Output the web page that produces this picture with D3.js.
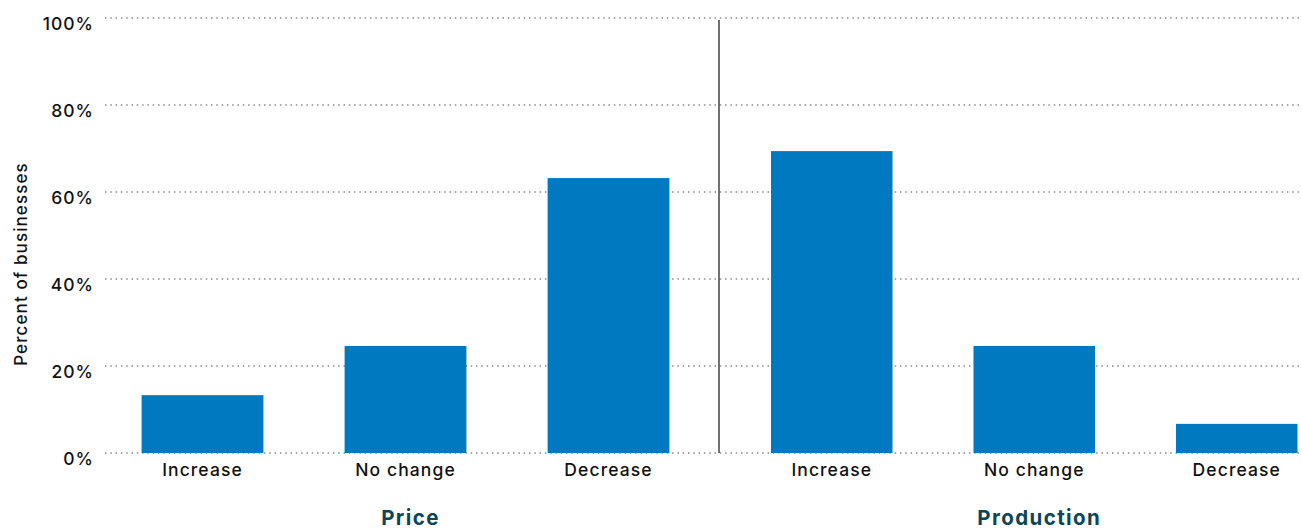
<!DOCTYPE html>
<html>
<head>
<meta charset="utf-8">
<script src="https://cdn.jsdelivr.net/npm/d3@7"></script>
<style>
  html, body { margin: 0; padding: 0; background: #fff; }
  svg { display: block; font-family: Inter, "Liberation Sans", Arial, sans-serif; }
</style>
</head>
<body>
<svg id="chart" width="1302" height="530"></svg>
<script>
const categories = ["Increase", "No change", "Decrease"];
const groups = ["Price", "Production"];
const priceValues = [13.3, 24.6, 63.2];
const productionValues = [69.4, 24.6, 6.7];
const yTicks = [0, 20, 40, 60, 80, 100];
const yTitle = "Percent of businesses";

const FONT = "Inter, 'Liberation Sans', Arial, sans-serif";
const svg = d3.select("#chart");
const y = d3.scaleLinear().domain([0, 100]).range([453, 18]);

const xLeft = d3.scaleBand().domain(categories).range([101, 710]).paddingInner(0.4).paddingOuter(0.2);
const xRight = d3.scaleBand().domain(categories).range([730.5, 1338]).paddingInner(0.4).paddingOuter(0.2);

// gridlines
const grid = svg.append("g");
grid.selectAll("line").data(yTicks).join("line")
  .attr("x1", 105).attr("x2", 1302)
  .attr("y1", d => y(d)).attr("y2", d => y(d))
  .attr("stroke", "#8a8a8a").attr("stroke-width", 1.5)
  .attr("stroke-dasharray", "1.5,3.8");

// y axis labels
const yAxis = d3.axisLeft(y).tickValues(yTicks).tickFormat(d => d + "%").tickSize(0).tickPadding(0);
const yg = svg.append("g").attr("transform", "translate(94,0)").call(yAxis);
yg.select(".domain").remove();
yg.selectAll("text").attr("font-size", 17.5).attr("fill", "#111")
  .attr("font-family", FONT).attr("font-weight", 500)
  .attr("letter-spacing", "1px")
  .attr("dy", "0.63em");

// y title
svg.append("text")
  .attr("transform", "translate(27," + 264 + ") rotate(-90)")
  .attr("text-anchor", "middle").attr("font-size", 17).attr("fill", "#111")
  .attr("font-family", FONT).attr("font-weight", 500)
  .attr("letter-spacing", "1.1px")
  .text(yTitle);

const color = "#0079c1";
function panel(x, values, label, offset) {
  svg.append("g").selectAll("rect").data(categories).join("rect")
    .attr("x", d => x(d)).attr("width", x.bandwidth())
    .attr("y", (d, i) => y(values[i])).attr("height", (d, i) => y(0) - y(values[i]))
    .attr("fill", color);
  const xa = d3.axisBottom(x).tickSize(0).tickPadding(0);
  const g = svg.append("g").attr("transform", "translate(0," + (y(0) + 5) + ")").call(xa);
  g.select(".domain").remove();
  g.selectAll("text").attr("font-size", 17.5).attr("fill", "#111")
    .attr("font-family", FONT).attr("font-weight", 500)
    .attr("letter-spacing", "1.1px").attr("dy", "1em");
  const r = x.range();
  svg.append("text").attr("x", (r[0] + r[1]) / 2 + offset).attr("y", 525)
    .attr("text-anchor", "middle").attr("font-size", 20.5).attr("font-weight", "bold")
    .attr("font-family", FONT).attr("letter-spacing", "1.4px")
    .attr("fill", "#0b4658").text(label);
}
panel(xLeft, priceValues, groups[0], 5);
panel(xRight, productionValues, groups[1], 5);

// divider
svg.append("line").attr("x1", 719).attr("x2", 719).attr("y1", y(100) + 2).attr("y2", y(0))
  .attr("stroke", "#111").attr("stroke-width", 1.2);
</script>
</body>
</html>
